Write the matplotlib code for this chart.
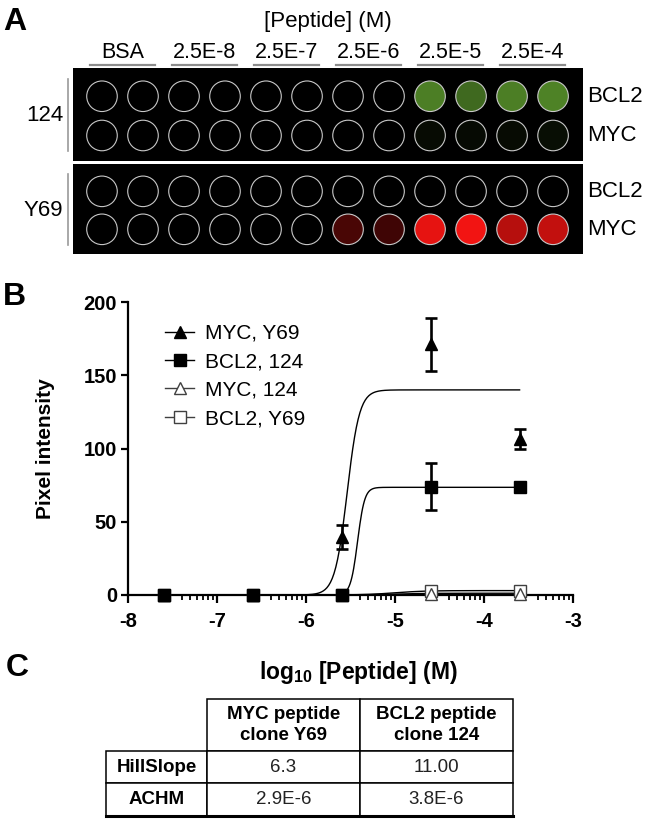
import numpy as np
import matplotlib
matplotlib.use('Agg')
import matplotlib.pyplot as plt
from matplotlib.lines import Line2D
from matplotlib.transforms import blended_transform_factory

plt.rcParams['font.family'] = ['Liberation Sans', 'DejaVu Sans']
plt.rcParams['mathtext.fontset'] = 'custom'
plt.rcParams['mathtext.rm'] = 'Liberation Sans'
plt.rcParams['mathtext.bf'] = 'Liberation Sans:bold'
plt.rcParams['axes.unicode_minus'] = False

# ---- panel A: spot array (2 wells per concentration)
conc_labels = ['BSA', '2.5E-8', '2.5E-7', '2.5E-6', '2.5E-5', '2.5E-4']
clones = ['124', 'Y69']
targets = ['BCL2', 'MYC']
# relative spot signal, 0 = background
green_124_bcl2 = [0, 0, 0, 0, 0, 0, 0, 0, 0.90, 0.75, 0.90, 0.93]
green_124_myc = [0, 0, 0, 0, 0, 0, 0, 0, 0.08, 0.07, 0.08, 0.10]
red_y69_bcl2 = [0, 0, 0, 0, 0, 0, 0, 0, 0, 0, 0, 0]
red_y69_myc = [0, 0, 0, 0, 0, 0, 0.30, 0.26, 0.95, 1.0, 0.75, 0.80]

# ---- panel B: dose response
log_conc = [-7.6, -6.6, -5.6, -4.6, -3.6]
myc_y69 = [0, 0, 39.5, 171, 106.5]
myc_y69_err = [0, 0, 8, 18, 6.5]
bcl2_124 = [0, 0, 0, 74, 73.5]
bcl2_124_err = [0, 0, 0, 16, 0]
myc_124 = [0, 0, 0, 1, 1]
bcl2_y69 = [0, 0, 0, 3, 3]
# fit parameters: top, log10 EC50, hill slope
fit_myc_y69 = [140, np.log10(2.9e-6), 6.3]
fit_bcl2_124 = [73.5, np.log10(3.8e-6), 11.0]
fit_myc_124 = [1.2, -5.0, 2.5]
fit_bcl2_y69 = [3.0, -5.0, 2.5]

# ---- panel C: fit table
col_headers = ['MYC peptide\nclone Y69', 'BCL2 peptide\nclone 124']
row_names = ['HillSlope', 'ACHM']
table_vals = [['6.3', '11.00'], ['2.9E-6', '3.8E-6']]

W, H = 652, 819


def fx(px):
    return px / W


def fy(py):
    return 1 - py / H


fig = plt.figure(figsize=(W / 100, H / 100), dpi=100)

# panel letters
fig.text(fx(3), fy(22), 'A', fontsize=23, fontweight='bold', va='center')
fig.text(fx(3), fy(297), 'B', fontsize=23, fontweight='bold', va='center')
fig.text(fx(6), fy(668), 'C', fontsize=23, fontweight='bold', va='center')

# ---------------- panel A
green = (0.33, 0.55, 0.16)
red = (0.95, 0.08, 0.07)


def well_colors(vals, base):
    return [(v * base[0], v * base[1], v * base[2]) for v in vals]


boxes = [(68, 161), (164, 254)]
rows = [[(green_124_bcl2, green), (green_124_myc, green)],
        [(red_y69_bcl2, red), (red_y69_myc, red)]]
wells_x = np.arange(len(green_124_bcl2))
box_axes = []
for (top, bot), clone, row_data in zip(boxes, clones, rows):
    ax = fig.add_axes([fx(73), fy(bot), fx(583) - fx(73), (bot - top) / H])
    ax.set_facecolor('black')
    ax.set_xlim(-0.707, 11.73)
    ax.set_ylim(1.65, -0.72)
    ax.set_xticks([])
    ax.set_yticks([])
    for s in ax.spines.values():
        s.set_visible(False)
    for r, (vals, base) in enumerate(row_data):
        ax.scatter(wells_x, [r] * len(vals), s=22 ** 2, c=well_colors(vals, base),
                   edgecolors='#c8c8c8', linewidths=0.8)
        ax.text(1.008, r, targets[r], transform=blended_transform_factory(ax.transAxes, ax.transData),
                ha='left', va='center', fontsize=16)
    tr = blended_transform_factory(fig.transFigure, ax.transData)
    ax.text(fx(63), 0.5, clone, transform=tr, ha='right', va='center', fontsize=16)
    ax.plot([fx(68), fx(68)], [-0.45, 1.4], transform=tr, color='#9a9a9a', lw=1.2, clip_on=False)
    box_axes.append(ax)

ax_top = box_axes[0]
tr = blended_transform_factory(ax_top.transData, fig.transFigure)
ax_top.text(5.5, fy(21), '[Peptide] (M)', transform=tr, ha='center', va='center', fontsize=16)
for k, lab in enumerate(conc_labels):
    xc = 2 * k + 0.5
    ax_top.text(xc, fy(53), lab, transform=tr, ha='center', va='center', fontsize=15.5)
    ax_top.plot([xc - 0.79, xc + 0.79], [fy(65), fy(65)], transform=tr, color='#8c8c8c',
                lw=1.6, clip_on=False)

# ---------------- panel B
ax = fig.add_axes([fx(128), fy(595), fx(573) - fx(128), (595 - 302) / H])
xs = np.linspace(log_conc[0], log_conc[-1], 400)
for top, ec50, hill in [fit_myc_124, fit_bcl2_y69, fit_bcl2_124, fit_myc_y69]:
    ax.plot(xs, top / (1 + 10 ** ((ec50 - xs) * hill)), color='black', lw=1.0, clip_on=False)

open_kw = dict(linestyle='none', mfc='white', mec='#404040', mew=1.0, clip_on=False, zorder=4)
ax.plot(log_conc, bcl2_y69, marker='s', ms=9, **open_kw)
ax.plot(log_conc, myc_124, marker='^', ms=8, **open_kw)

for yv, ev, mk, ms in [(bcl2_124, bcl2_124_err, 's', 9), (myc_y69, myc_y69_err, '^', 9)]:
    ax.plot(log_conc, yv, linestyle='none', marker=mk, ms=ms, color='black', clip_on=False, zorder=5)
    idx = [i for i, e in enumerate(ev) if e > 0]
    ax.errorbar([log_conc[i] for i in idx], [yv[i] for i in idx], yerr=[ev[i] for i in idx],
                fmt='none', ecolor='black', elinewidth=1.9, capsize=4.2, capthick=1.9,
                clip_on=False, zorder=5)

ax.set_xlim(-8, -3)
ax.set_ylim(0, 200)
ax.set_xticks(range(-8, -2))
ax.set_xticks([d + np.log10(k) for d in range(-8, -3) for k in range(4, 10)], minor=True)
ax.set_yticks([0, 50, 100, 150, 200])
for s in ['top', 'right']:
    ax.spines[s].set_visible(False)
for s in ['left', 'bottom']:
    ax.spines[s].set_linewidth(1.6)
ax.tick_params(axis='y', which='major', length=5, width=1.6, pad=3, labelsize=14.5)
ax.tick_params(axis='x', which='major', length=6, width=1.6, pad=6, labelsize=14.5)
ax.tick_params(axis='x', which='minor', length=3.5, width=1.3)
for lab in ax.get_xticklabels() + ax.get_yticklabels():
    lab.set_fontweight('bold')
ax.set_ylabel('Pixel intensity', fontsize=15, fontweight='bold')
ax.yaxis.set_label_coords(-0.165, 0.5)

handles = [
    Line2D([], [], color='black', lw=1.0, marker='^', ms=8),
    Line2D([], [], color='black', lw=1.0, marker='s', ms=8),
    Line2D([], [], color='#404040', lw=1.0, marker='^', ms=8, mfc='white', mec='#404040'),
    Line2D([], [], color='#404040', lw=1.0, marker='s', ms=8, mfc='white', mec='#404040'),
]
ax.legend(handles, ['MYC, Y69', 'BCL2, 124', 'MYC, 124', 'BCL2, Y69'], loc='upper left',
          bbox_to_anchor=(fx(165), fy(324)), bbox_transform=fig.transFigure, frameon=False,
          borderpad=0, borderaxespad=0, handlelength=1.4, handletextpad=0.5, labelspacing=0.45,
          fontsize=15)

fig.text(fx(358), fy(672), r'$\mathbf{log_{10}}$ [Peptide] (M)', ha='center', va='center',
         fontsize=16.5, fontweight='bold')

# ---------------- panel C
tab_ax = fig.add_axes([fx(106), fy(816), fx(513) - fx(106), (816 - 699) / H])
tab_ax.axis('off')
cells = [[''] + col_headers] + [[name] + vals for name, vals in zip(row_names, table_vals)]
tbl = tab_ax.table(cellText=cells, cellLoc='center', bbox=[0, 0, 1, 1],
                   colWidths=[101 / 407, 153 / 407, 153 / 407])
tbl.auto_set_font_size(False)
row_h = [52, 32, 33]
for (r, c), cell in tbl.get_celld().items():
    cell.set_height(row_h[r] / 117)
    cell.set_linewidth(1.1)
    txt = cell.get_text()
    txt.set_fontsize(13.5)
    txt.set_linespacing(1.3)
    if r == 0 or c == 0:
        txt.set_fontweight('bold')
    else:
        txt.set_color('#222222')
    if r == 0 and c == 0:
        cell.visible_edges = 'open'
tab_ax.plot([0, 1], [0, 0], transform=tab_ax.transAxes, color='black', lw=2.2, clip_on=False)

fig.savefig('out.png', dpi=100)
